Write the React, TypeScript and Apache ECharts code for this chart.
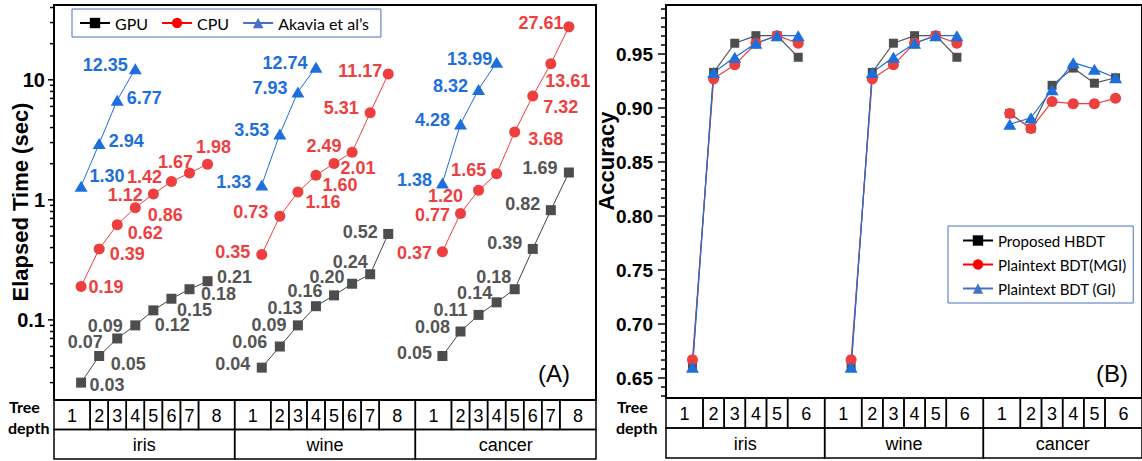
import React, { useEffect, useRef } from "react";
import * as echarts from "echarts";

// ---------- Panel A data (elapsed time, seconds) ----------
const timeGroups = ["iris", "wine", "cancer"];
const timeDepths = [1, 2, 3, 4, 5, 6, 7, 8];
const akaviaDepths = [1, 2, 3, 4];
const gpuIris = [0.03, 0.05, 0.07, 0.09, 0.12, 0.15, 0.18, 0.21];
const gpuWine = [0.04, 0.06, 0.09, 0.13, 0.16, 0.2, 0.24, 0.52];
const gpuCancer = [0.05, 0.08, 0.11, 0.14, 0.18, 0.39, 0.82, 1.69];
const cpuIris = [0.19, 0.39, 0.62, 0.86, 1.12, 1.42, 1.67, 1.98];
const cpuWine = [0.35, 0.73, 1.16, 1.6, 2.01, 2.49, 5.31, 11.17];
const cpuCancer = [0.37, 0.77, 1.2, 1.65, 3.68, 7.32, 13.61, 27.61];
const akaviaIris = [1.3, 2.94, 6.77, 12.35];
const akaviaWine = [1.33, 3.53, 7.93, 12.74];
const akaviaCancer = [1.38, 4.28, 8.32, 13.99];
const timeMajorTicks = [0.1, 1, 10];
const timeMinorTicks = [0.03, 0.04, 0.05, 0.06, 0.07, 0.08, 0.09, 0.2, 0.3, 0.4, 0.5, 0.6, 0.7, 0.8, 0.9, 2, 3, 4, 5, 6, 7, 8, 9, 20, 30, 40];

// ---------- Panel B data (accuracy) ----------
const accGroups = ["iris", "wine", "cancer"];
const accDepths = [1, 2, 3, 4, 5, 6];
const hbdtIris = [0.66, 0.933, 0.96, 0.967, 0.967, 0.947];
const hbdtWine = [0.66, 0.933, 0.96, 0.967, 0.967, 0.947];
const hbdtCancer = [0.895, 0.881, 0.921, 0.937, 0.923, 0.928];
const mgiIris = [0.667, 0.927, 0.94, 0.96, 0.967, 0.96];
const mgiWine = [0.667, 0.927, 0.94, 0.96, 0.967, 0.96];
const mgiCancer = [0.895, 0.881, 0.906, 0.904, 0.904, 0.909];
const giIris = [0.66, 0.933, 0.947, 0.96, 0.967, 0.967];
const giWine = [0.66, 0.933, 0.947, 0.96, 0.967, 0.967];
const giCancer = [0.885, 0.891, 0.917, 0.942, 0.936, 0.928];
const accMajorTicks = [0.65, 0.7, 0.75, 0.8, 0.85, 0.9, 0.95];

// ---------- label placement (style, pixel offsets of label centre) ----------
const gpuLabelOffsets = [
  [[26, 2], [29, 8], [-32, 4], [-30, 1], [19, 15], [23, 11], [29, 5], [27, -4]],
  [[-29, -4], [-30, -5], [-29, 0], [-31, 2], [-29, -4], [-25, -7], [-20, -12], [-28, -2]],
  [[-28, -3], [-28, -5], [-28, -5], [-22, -9], [-21, -12], [-28, -6], [-28, -6], [-29, -4]],
];
const cpuLabelOffsets = [
  [[25, 1], [28, 5], [28, 8], [30, 7], [-28, 1], [-27, -5], [-14, -11], [6, -17]],
  [[-29, -3], [-29, -4], [25, 10], [24, 10], [24, 5], [-28, -6], [-29, -5], [-28, -3]],
  [[-28, 1], [-28, 2], [-33, 6], [-28, -4], [31, 7], [28, 11], [17, 17], [-28, -4]],
];
const akaviaLabelOffsets = [
  [[26, -10], [27, -3], [27, -2], [-30, -4]],
  [[-28, -3], [-28, -4], [-28, -4], [-31, -4]],
  [[-28, -3], [-28, -4], [-28, -3], [-27, -3]],
];

const TIME_SPAN = 10;
const TIME_OFF = 0.5;
const ACC_SPAN = 7.5;
const ACC_OFF = 0.25;

const GRAY = "#4d4d4d";
const RED = "#ee3f3f";
const BLUE = "#1d6fdc";
const NUM_FONT = "Liberation Sans";

function buildLine(groupVals: number[][], depths: number[], span: number, off: number, offsets?: number[][][]) {
  const out: any[] = [];
  groupVals.forEach((vals, g) => {
    vals.forEach((v, i) => {
      const item: any = { value: [g * span + off + depths[i], v] };
      if (offsets) item.label = { offset: offsets[g][i] };
      out.push(item);
    });
    if (g < groupVals.length - 1) out.push({ value: [(g + 1) * span, "-"] });
  });
  return out;
}

function buildCells(groups: string[], depths: number[], span: number, off: number) {
  const cells: { x0: number; x1: number; row: number; text: string }[] = [];
  groups.forEach((name, g) => {
    const start = g * span;
    const end = (g + 1) * span;
    const xs = depths.map((d) => start + off + d);
    depths.forEach((d, i) => {
      const x0 = i === 0 ? start : (xs[i - 1] + xs[i]) / 2;
      const x1 = i === depths.length - 1 ? end : (xs[i] + xs[i + 1]) / 2;
      cells.push({ x0, x1, row: 0, text: String(d) });
    });
    cells.push({ x0: start, x1: end, row: 1, text: name });
  });
  return cells;
}

function tableSeries(cells: any[], axisIndex: number, yRef: number, rowH: number) {
  return {
    type: "custom",
    xAxisIndex: axisIndex,
    yAxisIndex: axisIndex,
    clip: false,
    silent: true,
    z: 10,
    data: cells.map((c) => [c.x0, c.x1]),
    encode: { x: 0, y: 1 },
    renderItem: (params: any, api: any) => {
      const c = cells[params.dataIndex];
      const a = api.coord([c.x0, yRef])[0];
      const b = api.coord([c.x1, yRef])[0];
      const cs = params.coordSys;
      const top = cs.y + cs.height + c.row * rowH;
      return {
        type: "group",
        children: [
          {
            type: "rect",
            shape: { x: a, y: top, width: b - a, height: rowH },
            style: { fill: "none", stroke: "#000", lineWidth: 1.5 },
          },
          {
            type: "text",
            x: (a + b) / 2,
            y: top + rowH / 2 + 1,
            style: {
              text: c.text,
              fill: "#000",
              font: `18px '${NUM_FONT}'`,
              align: "center",
              verticalAlign: "middle",
            },
          },
        ],
      };
    },
  };
}

function tickSeries(axisIndex: number, xVal: number, majors: number[], minors: number[], majLen: number, minLen: number) {
  return {
    type: "custom",
    xAxisIndex: axisIndex,
    yAxisIndex: axisIndex,
    clip: false,
    silent: true,
    z: 10,
    data: [...majors.map((v) => [xVal, v, 1]), ...minors.map((v) => [xVal, v, 0])],
    encode: { x: 0, y: 1 },
    renderItem: (params: any, api: any) => {
      const p = api.coord([api.value(0), api.value(1)]);
      const len = api.value(2) ? majLen : minLen;
      return {
        type: "line",
        shape: { x1: p[0] - len, y1: p[1], x2: p[0], y2: p[1] },
        style: { stroke: "#000", lineWidth: 1.5 },
      };
    },
  };
}

export default function App() {
  const ref = useRef<HTMLDivElement>(null);

  useEffect(() => {
    if (!ref.current) return;
    const chart = echarts.init(ref.current, null, { renderer: "svg" });

    const accMin = 0.6315;
    const accMax = 0.9954;
    const accMinor: number[] = [];
    for (let i = 0; i <= 48; i++) {
      const v = 0.6 + (i * 0.05) / 6;
      if (v > accMin && v < accMax && i % 6 !== 0) accMinor.push(v);
    }

    const labelBase = (color: string) => ({
      show: true,
      position: "inside",
      color,
      fontFamily: NUM_FONT,
      fontWeight: "bold",
      fontSize: 18,
      lineHeight: 14,
      textBorderWidth: 0,
      textBorderColor: "transparent",
      formatter: (p: any) => Number(p.value[1]).toFixed(2),
    });

    const timeCells = buildCells(timeGroups, timeDepths, TIME_SPAN, TIME_OFF);
    const accCells = buildCells(accGroups, accDepths, ACC_SPAN, ACC_OFF);

    const option: any = {
      animation: false,
      backgroundColor: "#fff",
      grid: [
        { left: 54, top: 5, width: 542, height: 395, show: true, borderColor: "#000", borderWidth: 2, backgroundColor: "transparent" },
        { left: 666, top: 5, width: 480.4, height: 393, show: true, borderColor: "#000", borderWidth: 2, backgroundColor: "transparent" },
      ],
      xAxis: [
        { type: "value", gridIndex: 0, min: 0, max: timeGroups.length * TIME_SPAN, show: false },
        { type: "value", gridIndex: 1, min: 0, max: accGroups.length * ACC_SPAN, show: false },
      ],
      yAxis: [
        {
          type: "log",
          logBase: 10,
          gridIndex: 0,
          min: 0.0215,
          max: 42,
          axisLine: { show: true, lineStyle: { color: "#000", width: 2 } },
          axisTick: { show: false },
          splitLine: { show: false },
          axisLabel: {
            color: "#000",
            fontFamily: NUM_FONT,
            fontWeight: "bold",
            fontSize: 20,
            margin: 9,
            formatter: (v: number) => {
              const l = Math.log10(v);
              if (Math.abs(l - Math.round(l)) > 1e-6) return "";
              const k = Math.round(l);
              return k < 0 ? (10 ** k).toFixed(-k) : String(10 ** k);
            },
          },
        },
        {
          type: "value",
          gridIndex: 1,
          min: accMin,
          max: accMax,
          splitNumber: 7,
          axisLine: { show: true, lineStyle: { color: "#000", width: 2 } },
          axisTick: { show: false },
          splitLine: { show: false },
          axisLabel: {
            color: "#000",
            fontFamily: NUM_FONT,
            fontWeight: "bold",
            fontSize: 19,
            margin: 13,
            formatter: (v: number) => (Math.abs(v * 20 - Math.round(v * 20)) < 1e-6 ? v.toFixed(2) : ""),
          },
        },
      ],
      legend: [
        {
          left: 72,
          top: 9,
          orient: "horizontal",
          itemWidth: 30,
          itemHeight: 13,
          itemGap: 13,
          padding: [6, 12, 6, 7],
          borderColor: "#4472c4",
          borderWidth: 1,
          textStyle: { fontFamily: "Lato", fontSize: 16, color: "#000" },
          data: [
            { name: "GPU", itemStyle: { color: "#000" }, lineStyle: { color: "#000", width: 2 } },
            { name: "CPU", itemStyle: { color: "#ff0000" }, lineStyle: { color: "#ff0000", width: 2 } },
            { name: "Akavia et al’s", itemStyle: { color: "#4472c4" }, lineStyle: { color: "#4472c4", width: 2 } },
          ],
        },
        {
          left: 948,
          top: 226,
          orient: "vertical",
          itemWidth: 30,
          itemHeight: 13,
          itemGap: 9,
          padding: [7, 7, 7, 14],
          borderColor: "#4472c4",
          borderWidth: 1,
          textStyle: { fontFamily: "Lato", fontSize: 15, color: "#000" },
          data: [
            { name: "Proposed HBDT", itemStyle: { color: "#000" }, lineStyle: { color: "#000", width: 2 } },
            { name: "Plaintext BDT(MGI)", itemStyle: { color: "#ff0000" }, lineStyle: { color: "#ff0000", width: 2 } },
            { name: "Plaintext BDT (GI)", itemStyle: { color: "#4472c4" }, lineStyle: { color: "#4472c4", width: 2 } },
          ],
        },
      ],
      graphic: [
        { type: "text", x: 20, y: 202, rotation: Math.PI / 2, style: { text: "Elapsed Time (sec)", font: `bold 22px '${NUM_FONT}'`, fill: "#000", align: "center", verticalAlign: "middle" } },
        { type: "text", x: 606, y: 161, rotation: Math.PI / 2, style: { text: "Accuracy", font: `bold 22px '${NUM_FONT}'`, fill: "#000", align: "center", verticalAlign: "middle" } },
        { type: "text", x: 554, y: 373, style: { text: "(A)", font: `24px '${NUM_FONT}'`, fill: "#000", align: "center", verticalAlign: "middle" } },
        { type: "text", x: 1112, y: 373, style: { text: "(B)", font: `24px '${NUM_FONT}'`, fill: "#000", align: "center", verticalAlign: "middle" } },
        { type: "text", x: 9, y: 406, style: { text: "Tree", font: "bold 16px Lato", fill: "#000", align: "left", verticalAlign: "middle" } },
        { type: "text", x: 8, y: 427, style: { text: "depth", font: "bold 16px Lato", fill: "#000", align: "left", verticalAlign: "middle" } },
        { type: "text", x: 617, y: 406, style: { text: "Tree", font: "bold 16px Lato", fill: "#000", align: "left", verticalAlign: "middle" } },
        { type: "text", x: 616, y: 427, style: { text: "depth", font: "bold 16px Lato", fill: "#000", align: "left", verticalAlign: "middle" } },
      ],
      series: [
        {
          name: "GPU",
          type: "line",
          xAxisIndex: 0,
          yAxisIndex: 0,
          symbol: "rect",
          symbolSize: 10,
          itemStyle: { color: GRAY },
          lineStyle: { color: "#444", width: 1 },
          label: labelBase("#555"),
          data: buildLine([gpuIris, gpuWine, gpuCancer], timeDepths, TIME_SPAN, TIME_OFF, gpuLabelOffsets),
        },
        {
          name: "CPU",
          type: "line",
          xAxisIndex: 0,
          yAxisIndex: 0,
          symbol: "circle",
          symbolSize: 11,
          itemStyle: { color: RED },
          lineStyle: { color: RED, width: 1 },
          label: labelBase(RED),
          data: buildLine([cpuIris, cpuWine, cpuCancer], timeDepths, TIME_SPAN, TIME_OFF, cpuLabelOffsets),
        },
        {
          name: "Akavia et al’s",
          type: "line",
          xAxisIndex: 0,
          yAxisIndex: 0,
          symbol: "triangle",
          symbolSize: [13, 11],
          itemStyle: { color: BLUE },
          lineStyle: { color: BLUE, width: 1 },
          label: labelBase(BLUE),
          data: buildLine([akaviaIris, akaviaWine, akaviaCancer], akaviaDepths, TIME_SPAN, TIME_OFF, akaviaLabelOffsets),
        },
        {
          name: "Proposed HBDT",
          type: "line",
          xAxisIndex: 1,
          yAxisIndex: 1,
          symbol: "rect",
          symbolSize: 9,
          itemStyle: { color: GRAY },
          lineStyle: { color: "#555", width: 1.2 },
          data: buildLine([hbdtIris, hbdtWine, hbdtCancer], accDepths, ACC_SPAN, ACC_OFF),
        },
        {
          name: "Plaintext BDT(MGI)",
          type: "line",
          xAxisIndex: 1,
          yAxisIndex: 1,
          symbol: "circle",
          symbolSize: 11,
          itemStyle: { color: RED },
          lineStyle: { color: RED, width: 1.2 },
          data: buildLine([mgiIris, mgiWine, mgiCancer], accDepths, ACC_SPAN, ACC_OFF),
        },
        {
          name: "Plaintext BDT (GI)",
          type: "line",
          xAxisIndex: 1,
          yAxisIndex: 1,
          symbol: "triangle",
          symbolSize: [13, 11],
          itemStyle: { color: BLUE },
          lineStyle: { color: BLUE, width: 1.2 },
          data: buildLine([giIris, giWine, giCancer], accDepths, ACC_SPAN, ACC_OFF),
        },
        tickSeries(0, 0, timeMajorTicks, timeMinorTicks, 6, 4),
        tickSeries(1, 0, accMajorTicks, accMinor, 8, 5),
        tableSeries(timeCells, 0, 1, 29.5),
        tableSeries(accCells, 1, 0.8, 30),
      ],
    };

    chart.setOption(option);
    return () => chart.dispose();
  }, []);

  return (
    <div
      ref={ref}
      style={{ position: "absolute", left: 0, top: 0, width: 1142, height: 461, background: "#fff" }}
    />
  );
}
